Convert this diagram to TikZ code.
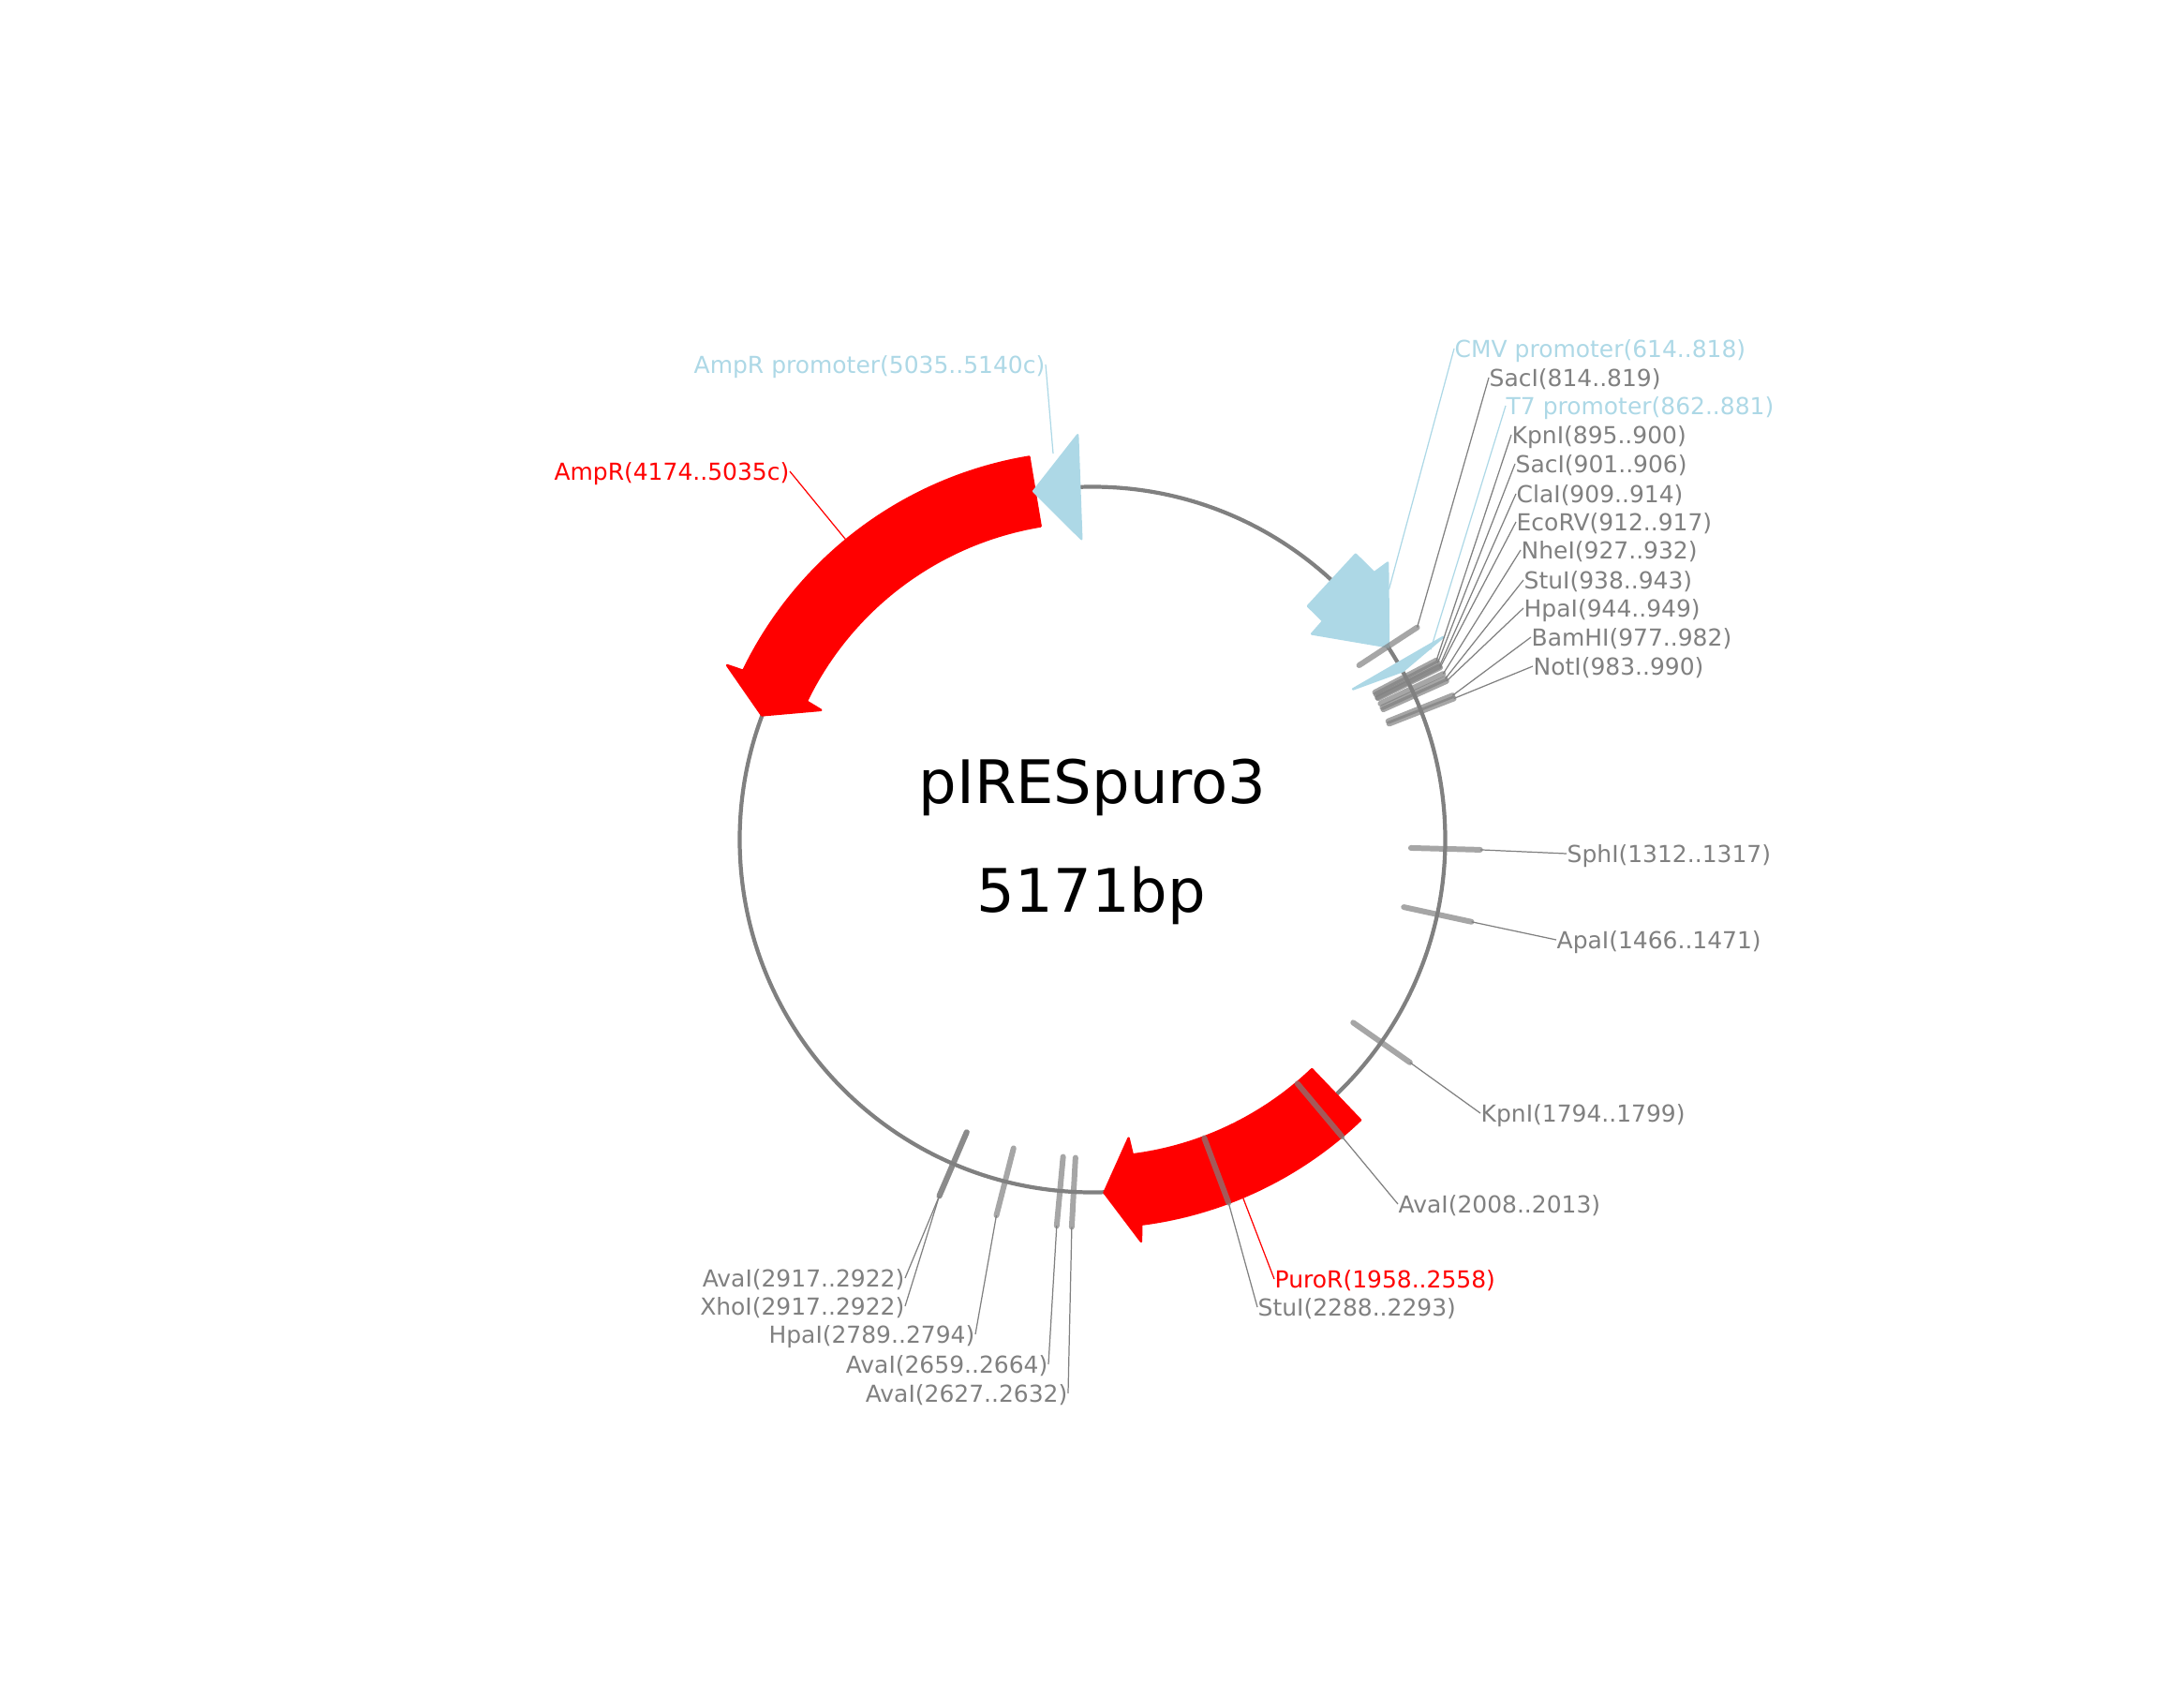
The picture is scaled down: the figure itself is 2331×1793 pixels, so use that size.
\documentclass[tikz,border=0pt]{standalone}
\usepackage{fontspec}
\setmainfont{DejaVu Sans}
\definecolor{promoterblue}{HTML}{ADD8E6}
\tikzset{
  ringline/.style={draw=gray,line width=1.2pt},
  redfeature/.style={fill=red,draw=red,line width=0.7pt,line join=round},
  bluefeature/.style={fill=promoterblue,draw=promoterblue,line width=0.7pt,line join=round},
  sitetick/.style={draw=gray,line width=1.7pt,line cap=round,opacity=0.7},
  leader/.style={draw=gray,line width=0.35pt},
  redleader/.style={draw=red,line width=0.35pt},
  blueleader/.style={draw=promoterblue,line width=0.35pt},
  label text/.style={inner sep=0pt,text height=6.2pt,text depth=0.9pt,font=\fontsize{7.1}{8}\selectfont},
  sitelabel/.style={label text,text=gray},
  redlabel/.style={label text,text=red},
  bluelabel/.style={label text,text=promoterblue},
  titletext/.style={inner sep=0pt,font=\fontsize{18.2}{20}\selectfont}
}
\begin{document}
\begin{tikzpicture}[x=0.01cm,y=0.01cm]
            \useasboundingbox (-1166,-897) rectangle (1165,896);
            \draw[ringline] (0,0) circle (376.5);

            \draw[redfeature] (99.4:414) arc (99.4:154.2:414) -- (154.5:432) -- (159.4:377) -- (154.5:321) -- (154.2:339) arc (154.2:99.4:339) -- cycle;
            \draw[redfeature] (-46.3:414) arc (-46.3:-82.75:414) -- (-83.1:432) -- (-88.1:377) -- (-83.1:321) -- (-82.75:339) arc (-82.75:-46.3:339) -- cycle;
            \draw[bluefeature] (92.1:432) -- (99.6:377) -- (92.1:321) -- cycle;
            \draw[bluefeature] (47.3:414) arc (47.3:43.45:414) -- (43.15:432) -- (33.05:377) -- (43.15:321) -- (43.45:339) arc (43.45:47.3:339) -- cycle;
            \draw[bluefeature] (30:432) -- (28.5:377) -- (30:321) -- cycle;

            \node[titletext] (plasmidname) at (0,56) {pIRESpuro3};
            \node[titletext] (plasmidsize) at (-1,-60) {5171bp};

            \coordinate (ampRend) at (129.44:414);
            \coordinate (ampRpromend) at (95.82:414);
            \coordinate (puroRend) at (-67.2:414);
            \coordinate (cmvend) at (40.15:414);
            \coordinate (tsevenend) at (29.33:414);
            \node[redlabel,anchor=east] (ampRlab) at (-323,393) {AmpR(4174..5035c)};
            \node[bluelabel,anchor=east] (ampRpromlab) at (-50,507) {AmpR promoter(5035..5140c)};
            \node[redlabel,anchor=west] (puroRlab) at (194,-469) {PuroR(1958..2558)};
            \node[bluelabel,anchor=west] (cmvlab) at (386,524) {CMV promoter(614..818)};
            \node[bluelabel,anchor=west] (tsevenlab) at (441,463) {T7 promoter(862..881)};
            \draw[redleader] (ampRend) -- (ampRlab.east);
            \draw[blueleader] (ampRpromend) -- (ampRpromlab.east);
            \draw[redleader] (puroRend) -- (puroRlab.west);
            \draw[blueleader] (cmvend) -- (cmvlab.west);
            \draw[blueleader] (tsevenend) -- (tsevenlab.west);

            \coordinate (sacIa) at (33.16:414);
            \coordinate (kpnIa) at (27.52:414);
            \coordinate (sacIb) at (27.10:414);
            \coordinate (claI) at (26.54:414);
            \coordinate (ecoRV) at (26.33:414);
            \coordinate (nheI) at (25.29:414);
            \coordinate (stuIa) at (24.52:414);
            \coordinate (hpaIa) at (24.11:414);
            \coordinate (bamHI) at (21.81:414);
            \coordinate (notI) at (21.32:414);
            \coordinate (sphI) at (-1.51:414);
            \coordinate (apaI) at (-12.24:414);
            \coordinate (kpnIb) at (-35.07:414);
            \coordinate (avaIa) at (-49.97:414);
            \coordinate (stuIb) at (-69.46:414);
            \coordinate (avaIb) at (-93.06:414);
            \coordinate (avaIc) at (-95.29:414);
            \coordinate (hpaIb) at (-104.34:414);
            \coordinate (avaId) at (-113.26:414);
            \coordinate (xhoI) at (-113.26:414);

            \draw[sitetick] (33.16:340) -- (sacIa);
            \draw[sitetick] (27.52:340) -- (kpnIa);
            \draw[sitetick] (27.10:340) -- (sacIb);
            \draw[sitetick] (26.54:340) -- (claI);
            \draw[sitetick] (26.33:340) -- (ecoRV);
            \draw[sitetick] (25.29:340) -- (nheI);
            \draw[sitetick] (24.52:340) -- (stuIa);
            \draw[sitetick] (24.11:340) -- (hpaIa);
            \draw[sitetick] (21.81:340) -- (bamHI);
            \draw[sitetick] (21.32:340) -- (notI);
            \draw[sitetick] (-1.51:340) -- (sphI);
            \draw[sitetick] (-12.24:340) -- (apaI);
            \draw[sitetick] (-35.07:340) -- (kpnIb);
            \draw[sitetick] (-49.97:340) -- (avaIa);
            \draw[sitetick] (-69.46:340) -- (stuIb);
            \draw[sitetick] (-93.06:340) -- (avaIb);
            \draw[sitetick] (-95.29:340) -- (avaIc);
            \draw[sitetick] (-104.34:340) -- (hpaIb);
            \draw[sitetick] (-113.26:340) -- (avaId);
            \draw[sitetick] (-113.26:340) -- (xhoI);

            \node[sitelabel,anchor=west] (sacIalab) at (423,493) {SacI(814..819)};
            \node[sitelabel,anchor=west] (kpnIalab) at (447,432) {KpnI(895..900)};
            \node[sitelabel,anchor=west] (sacIblab) at (451,401) {SacI(901..906)};
            \node[sitelabel,anchor=west] (claIlab) at (452,369) {ClaI(909..914)};
            \node[sitelabel,anchor=west] (ecoRVlab) at (452,339) {EcoRV(912..917)};
            \node[sitelabel,anchor=west] (nheIlab) at (457,309) {NheI(927..932)};
            \node[sitelabel,anchor=west] (stuIalab) at (460,277) {StuI(938..943)};
            \node[sitelabel,anchor=west] (hpaIalab) at (460,247) {HpaI(944..949)};
            \node[sitelabel,anchor=west] (bamHIlab) at (468,216) {BamHI(977..982)};
            \node[sitelabel,anchor=west] (notIlab) at (470,185) {NotI(983..990)};
            \node[sitelabel,anchor=west] (sphIlab) at (506,-15) {SphI(1312..1317)};
            \node[sitelabel,anchor=west] (apaIlab) at (495,-107) {ApaI(1466..1471)};
            \node[sitelabel,anchor=west] (kpnIblab) at (414,-292) {KpnI(1794..1799)};
            \node[sitelabel,anchor=west] (avaIalab) at (326,-389) {AvaI(2008..2013)};
            \node[sitelabel,anchor=west] (stuIblab) at (176,-499) {StuI(2288..2293)};
            \node[sitelabel,anchor=east] (avaIblab) at (-26,-591) {AvaI(2627..2632)};
            \node[sitelabel,anchor=east] (avaIclab) at (-47,-560) {AvaI(2659..2664)};
            \node[sitelabel,anchor=east] (hpaIblab) at (-125,-528) {HpaI(2789..2794)};
            \node[sitelabel,anchor=east] (avaIdlab) at (-200,-468) {AvaI(2917..2922)};
            \node[sitelabel,anchor=east] (xhoIlab) at (-200,-498) {XhoI(2917..2922)};

            \draw[leader] (sacIa) -- (sacIalab.west);
            \draw[leader] (kpnIa) -- (kpnIalab.west);
            \draw[leader] (sacIb) -- (sacIblab.west);
            \draw[leader] (claI) -- (claIlab.west);
            \draw[leader] (ecoRV) -- (ecoRVlab.west);
            \draw[leader] (nheI) -- (nheIlab.west);
            \draw[leader] (stuIa) -- (stuIalab.west);
            \draw[leader] (hpaIa) -- (hpaIalab.west);
            \draw[leader] (bamHI) -- (bamHIlab.west);
            \draw[leader] (notI) -- (notIlab.west);
            \draw[leader] (sphI) -- (sphIlab.west);
            \draw[leader] (apaI) -- (apaIlab.west);
            \draw[leader] (kpnIb) -- (kpnIblab.west);
            \draw[leader] (avaIa) -- (avaIalab.west);
            \draw[leader] (stuIb) -- (stuIblab.west);
            \draw[leader] (avaIb) -- (avaIblab.east);
            \draw[leader] (avaIc) -- (avaIclab.east);
            \draw[leader] (hpaIb) -- (hpaIblab.east);
            \draw[leader] (avaId) -- (avaIdlab.east);
            \draw[leader] (xhoI) -- (xhoIlab.east);
\end{tikzpicture}
\end{document}
